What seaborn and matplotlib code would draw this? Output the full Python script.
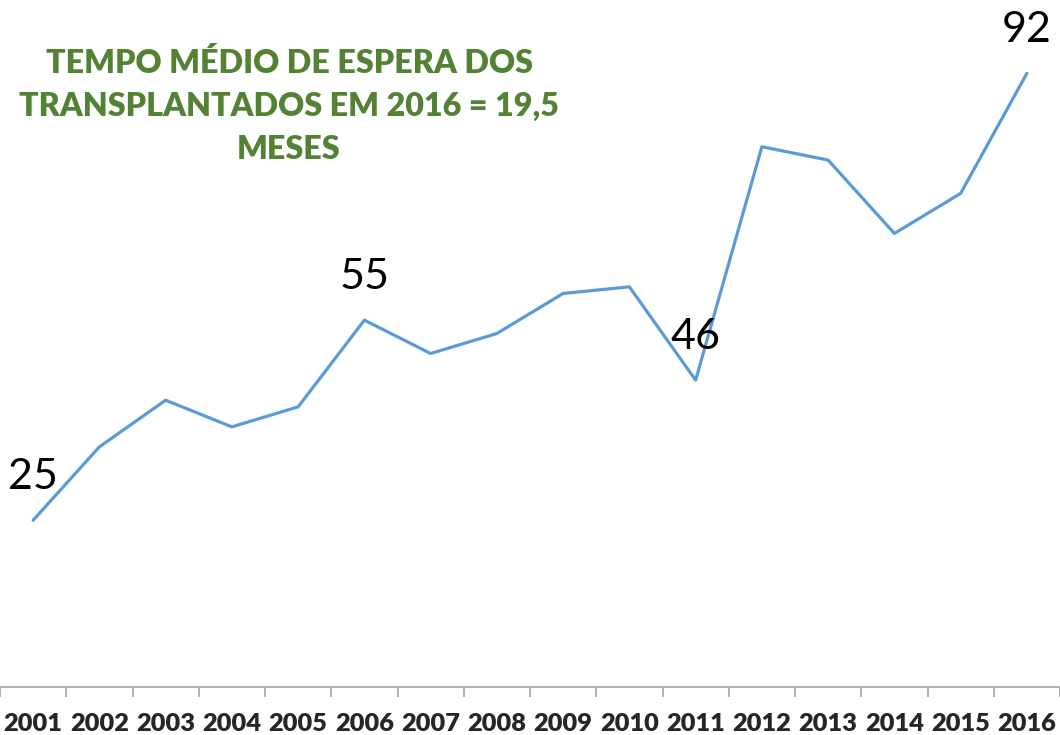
import numpy as np
import pandas as pd
import matplotlib
matplotlib.use("Agg")
import matplotlib.pyplot as plt
import seaborn as sns

# Dados
anos = ["2001", "2002", "2003", "2004", "2005", "2006", "2007", "2008",
        "2009", "2010", "2011", "2012", "2013", "2014", "2015", "2016"]
valores = [25, 36, 43, 39, 42, 55, 50, 53, 59, 60, 46, 81, 79, 68, 74, 92]
anos_rotulados = ["2001", "2006", "2011", "2016"]
titulo = "TEMPO MÉDIO DE ESPERA DOS\nTRANSPLANTADOS EM 2016 = 19,5\nMESES"

df = pd.DataFrame({"ano": anos, "valor": valores})

sns.set_style("white")
plt.rcParams["font.family"] = ["Lato", "DejaVu Sans"]

fig = plt.figure(figsize=(10.6, 7.35), dpi=100)
ax = fig.add_axes([0.0, 1 - 687 / 735, 1.0, 667 / 735])

sns.lineplot(data=df, x="ano", y="valor", ax=ax, color="#5B9BD5",
             linewidth=2.3, sort=False)

pos = np.arange(len(anos))
for i, (a, v) in enumerate(zip(anos, valores)):
    if a in anos_rotulados:
        ax.annotate(str(v), (i, v), xytext=(0, 31), textcoords="offset points",
                    ha="center", va="center", fontsize=31, color="black")

ax.set_xlim(-0.5, len(anos) - 0.5)
ax.set_ylim(0, 100)

# marcas nas divisões, rótulos no centro
ax.set_xticks(np.arange(-0.5, len(anos), 1))
ax.set_xticklabels([])
ax.set_xticks(pos, minor=True)
ax.set_xticklabels(anos, minor=True, fontsize=18.3, fontweight="heavy")
ax.tick_params(axis="x", which="major", length=7, width=1.2, color="#A6A6A6",
               direction="out", bottom=True)
ax.tick_params(axis="x", which="minor", length=0, pad=19)
ax.set_yticks([])
ax.set_xlabel("")
ax.set_ylabel("")

for s in ["top", "right", "left"]:
    ax.spines[s].set_visible(False)
ax.spines["bottom"].set_color("#A6A6A6")
ax.spines["bottom"].set_linewidth(1.2)

fig.text(289 / 1060, 1 - 106 / 735, titulo, ha="center", va="center",
         fontsize=23.2, fontweight="heavy", color="#548235", linespacing=1.6)

fig.savefig("out.png", dpi=100)
